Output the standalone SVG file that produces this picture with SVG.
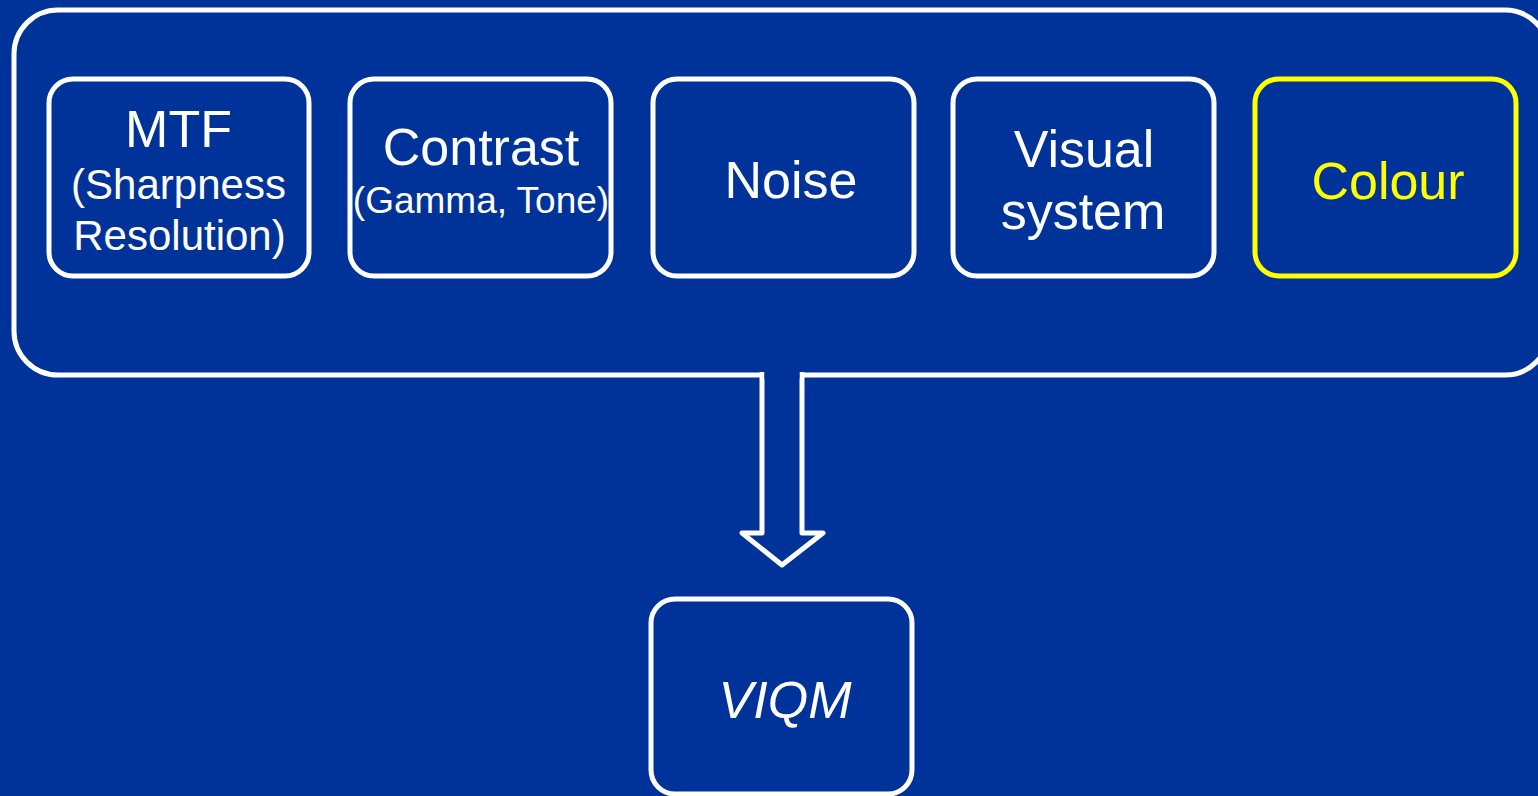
<svg xmlns="http://www.w3.org/2000/svg" width="1538" height="796" viewBox="0 0 1538 796">
<style>
.bg{fill:#003399}
.box{fill:#003399;stroke:#ffffff;stroke-width:5}
.ybox{fill:#003399;stroke:#ffff00;stroke-width:5}
.t{font-family:"Liberation Sans",Arial,sans-serif;fill:#ffffff;text-anchor:middle}
.big{font-size:52px}
.small{font-size:42px}
</style>
<rect class="bg" x="0" y="0" width="1538" height="796"/>
<g id="container">
<rect class="box" x="14" y="10" width="1535" height="365" rx="44" ry="44"/>
</g>
<g id="mtf">
<rect class="box" x="49" y="79" width="260" height="197" rx="24" ry="24"/>
<text class="t big" x="178.5" y="147">MTF</text>
<text class="t small" x="178.5" y="199">(Sharpness</text>
<text class="t small" x="179.5" y="250">Resolution)</text>
</g>
<g id="contrast">
<rect class="box" x="350" y="79" width="261" height="197" rx="24" ry="24"/>
<text class="t big" x="481" y="165">Contrast</text>
<text class="t" style="font-size:37px" x="481" y="213">(Gamma, Tone)</text>
</g>
<g id="noise">
<rect class="box" x="653" y="79" width="261" height="197" rx="24" ry="24"/>
<text class="t big" x="791" y="198">Noise</text>
</g>
<g id="visual">
<rect class="box" x="953" y="79" width="261" height="197" rx="24" ry="24"/>
<text class="t big" x="1084" y="167">Visual</text>
<text class="t big" x="1083" y="229">system</text>
</g>
<g id="colour">
<rect class="ybox" x="1255" y="79" width="261" height="197" rx="24" ry="24"/>
<text class="t big" style="fill:#ffff00" x="1388" y="199">Colour</text>
</g>
<g id="connectors">
<path d="M762,372 V533 H742 L782,565 L823,533 H802 V372" fill="#003399" stroke="#ffffff" stroke-width="5" stroke-linejoin="round"/>
<rect class="bg" x="764.5" y="371" width="35" height="8"/>
</g>
<g id="viqm">
<rect class="box" x="651" y="599" width="261" height="195" rx="24" ry="24"/>
<text class="t big" style="font-style:italic" x="785" y="718">VIQM</text>
</g>
</svg>
